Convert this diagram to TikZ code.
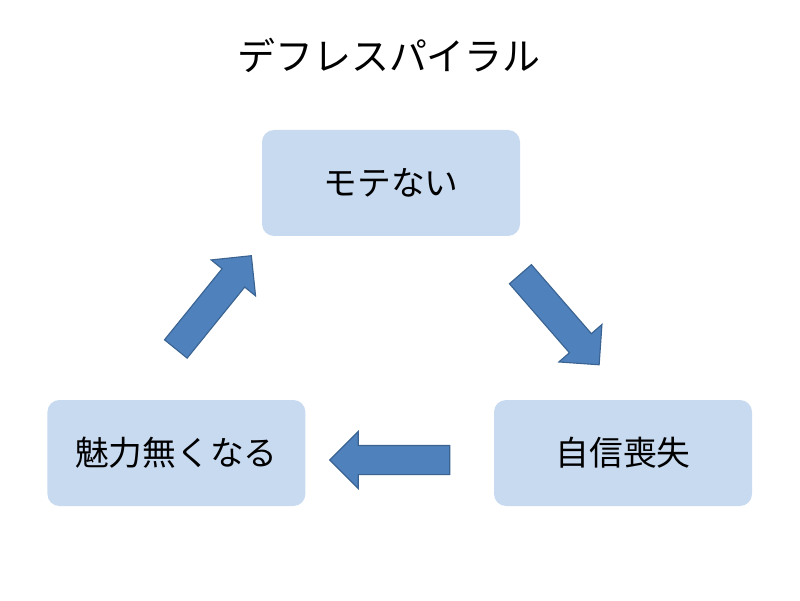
\documentclass[tikz,border=0pt]{standalone}
\usepackage{fontspec}
\setmainfont{Noto Sans CJK JP}
\usetikzlibrary{shapes.arrows, positioning}
\definecolor{BoxFill}{HTML}{C8DAF0}
\definecolor{ArrowFill}{HTML}{4F81BD}
\definecolor{ArrowLine}{HTML}{3A6391}

\tikzset{
  box/.style={fill=BoxFill, rounded corners=0.3cm, minimum width=6.45cm, minimum height=2.65cm, font=\fontsize{24}{28}\selectfont},
  bigarrow/.style={single arrow, fill=ArrowFill, draw=ArrowLine, line width=0.8pt, inner sep=0pt, inner ysep=0.35cm, minimum height=3cm, single arrow head extend=0.35cm}
}

\begin{document}
\begin{tikzpicture}
\useasboundingbox (0,0) rectangle (20,15);
\node[font=\fontsize{27}{32}\selectfont] (title) at (9.725,13.625) {デフレスパイラル};
% boxes: top, right, left
\node[box] (mote) at (9.775,10.425) {モテない};
\node[box] (jishin) at (15.575,3.675) {自信喪失};
\node[box] (miryoku) at (4.41,3.675) {魅力無くなる};
% arrows between the boxes
\node[bigarrow, rotate=51] (a1) at (5.225,7.3) {};
\node[bigarrow, rotate=-49] (a2) at (13.875,7.15) {};
\node[bigarrow, rotate=180] (a3) at (9.925,3.5) {};
\end{tikzpicture}
\end{document}
